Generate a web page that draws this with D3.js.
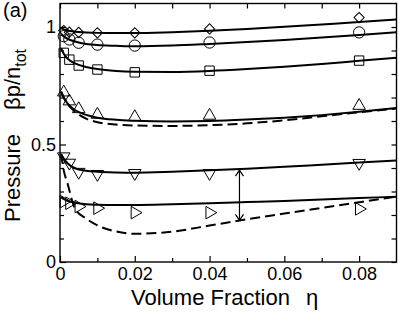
<!DOCTYPE html>
<html>
<head>
<meta charset="utf-8">
<script src="https://cdn.jsdelivr.net/npm/d3@7/dist/d3.min.js"></script>
<style>
  body { margin: 0; background: #fff; }
  svg { display: block; font-family: "Liberation Sans", Arial, sans-serif; }
</style>
</head>
<body>
<svg id="chart" width="399" height="312"></svg>
<script>
// measured points
var etaPts = [0.001, 0.0025, 0.005, 0.01, 0.02, 0.04, 0.08];
var diamondVals = [0.985, 0.978, 0.977, 0.975, 0.975, 0.992, 1.04];
var circleVals  = [0.961, 0.947, 0.933, 0.925, 0.921, 0.934, 0.977];
var squareVals  = [0.89, 0.861, 0.836, 0.819, 0.807, 0.814, 0.857];
var upVals      = [0.722, 0.684, 0.651, 0.627, 0.617, 0.623, 0.665];
var downVals    = [0.449, 0.422, 0.383, 0.374, 0.378, 0.378, 0.421];
var rightVals   = [0.257, 0.25, 0.236, 0.229, 0.21, 0.21, 0.226];

// theory curves
var curveEta = [0.0003, 0.001, 0.002, 0.004, 0.007, 0.01, 0.015, 0.02, 0.03, 0.04, 0.05, 0.06, 0.07, 0.08, 0.09];
var diamondCurve = [0.995, 0.99, 0.985, 0.98, 0.977, 0.975, 0.974, 0.974, 0.978, 0.984, 0.992, 1.001, 1.011, 1.021, 1.032];
var circleCurve  = [0.968, 0.96, 0.95, 0.938, 0.928, 0.923, 0.92, 0.918, 0.921, 0.928, 0.936, 0.945, 0.955, 0.966, 0.978];
var squareCurve  = [0.91, 0.886, 0.866, 0.845, 0.83, 0.821, 0.813, 0.81, 0.809, 0.813, 0.821, 0.831, 0.843, 0.856, 0.869];
var upCurve      = [0.725, 0.70, 0.675, 0.647, 0.626, 0.614, 0.605, 0.601, 0.598, 0.60, 0.606, 0.614, 0.625, 0.639, 0.655];
var upDashed     = [0.725, 0.70, 0.673, 0.64, 0.61, 0.595, 0.585, 0.581, 0.579, 0.582, 0.59, 0.603, 0.62, 0.637, 0.653];
var downCurve    = [0.46, 0.44, 0.42, 0.399, 0.388, 0.384, 0.381, 0.38, 0.384, 0.39, 0.397, 0.405, 0.414, 0.423, 0.432];
var rightCurve   = [0.276, 0.268, 0.26, 0.252, 0.246, 0.244, 0.243, 0.243, 0.246, 0.25, 0.255, 0.26, 0.266, 0.272, 0.278];
var rightDashed  = [0.46, 0.39, 0.335, 0.228, 0.185, 0.156, 0.13, 0.12, 0.129, 0.155, 0.182, 0.206, 0.23, 0.254, 0.278];

var xMajor = [0, 0.02, 0.04, 0.06, 0.08];
var xMinor = [0.01, 0.03, 0.05, 0.07];
var yMajor = [0, 0.5, 1];
var yMinor = [0.1, 0.2, 0.3, 0.4, 0.6, 0.7, 0.8, 0.9];

var arrowEta = 0.048, arrowTop = 0.391, arrowBottom = 0.177;

var svg = d3.select("#chart");
// note: "top" is taken by window.top, so plot edges get their own names
var pLeft = 60, pRight = 396.5, pTop = 3.5, pBottom = 262;

var x = d3.scaleLinear().domain([0, 0.09]).range([pLeft, pRight]);
var y = d3.scaleLinear().domain([0, 1.1]).range([pBottom, pTop]);

svg.append("clipPath").attr("id", "clip")
  .append("rect").attr("x", pLeft).attr("y", pTop).attr("width", pRight - pLeft).attr("height", pBottom - pTop);

// axes, ticks pointing inward on all four sides
function fmtX(d) { return d === 0 ? "0" : d3.format(".2f")(d); }
function fmtY(d) { return d === 0 ? "0" : (d === 1 ? "1" : d3.format(".1f")(d)); }

function styleAxis(g) {
  g.select(".domain").remove();
  g.selectAll("line").attr("stroke", "#000").attr("stroke-width", 1.2);
  g.selectAll("text").attr("fill", "#000").style("font-size", "18px").style("font-family", "Liberation Sans, Arial, sans-serif");
}

svg.append("g").attr("transform", "translate(0," + pBottom + ")")
  .call(d3.axisBottom(x).tickValues(xMajor).tickSize(-6).tickPadding(5).tickFormat(fmtX)).call(styleAxis);
svg.append("g").attr("transform", "translate(0," + pBottom + ")")
  .call(d3.axisBottom(x).tickValues(xMinor).tickSize(-4).tickFormat("")).call(styleAxis);
svg.append("g").attr("transform", "translate(0," + pTop + ")")
  .call(d3.axisTop(x).tickValues(xMajor.concat(xMinor)).tickSize(-5).tickFormat("")).call(styleAxis);

svg.append("g").attr("transform", "translate(" + pLeft + ",0)")
  .call(d3.axisLeft(y).tickValues(yMajor).tickSize(-6).tickPadding(4).tickFormat(fmtY)).call(styleAxis);
svg.append("g").attr("transform", "translate(" + pLeft + ",0)")
  .call(d3.axisLeft(y).tickValues(yMinor).tickSize(-4).tickFormat("")).call(styleAxis);
svg.append("g").attr("transform", "translate(" + pRight + ",0)")
  .call(d3.axisRight(y).tickValues(yMajor.concat(yMinor)).tickSize(-5).tickFormat("")).call(styleAxis);

// frame
svg.append("rect")
  .attr("x", pLeft).attr("y", pTop)
  .attr("width", pRight - pLeft).attr("height", pBottom - pTop)
  .attr("fill", "none").attr("stroke", "#000").attr("stroke-width", 1.4);

var plot = svg.append("g");

// curves
var line = d3.line()
  .x(function(d) { return x(d[0]); })
  .y(function(d) { return y(d[1]); })
  .curve(d3.curveMonotoneX);

var curves = [
  { v: diamondCurve, dash: null },
  { v: circleCurve, dash: null },
  { v: squareCurve, dash: null },
  { v: upCurve, dash: null },
  { v: upDashed, dash: "10,5" },
  { v: downCurve, dash: null },
  { v: rightCurve, dash: null },
  { v: rightDashed, dash: "10,5" }
];

plot.selectAll("path.curve")
  .data(curves)
  .enter().append("path")
  .attr("class", "curve")
  .attr("clip-path", "url(#clip)")
  .attr("d", function(c) { return line(curveEta.map(function(e, i) { return [e, c.v[i]]; })); })
  .attr("fill", "none")
  .attr("stroke", "#000")
  .attr("stroke-width", 2)
  .attr("stroke-dasharray", function(c) { return c.dash; });

// markers (diamond = square turned 45 degrees, same width and height)
var series = [
  { v: diamondVals, shape: d3.symbolSquare, size: 52, rot: 45 },
  { v: circleVals, shape: d3.symbolCircle, size: 100, rot: 0 },
  { v: squareVals, shape: d3.symbolSquare, size: 88, rot: 0 },
  { v: upVals, shape: d3.symbolTriangle, size: 68, rot: 0 },
  { v: downVals, shape: d3.symbolTriangle, size: 68, rot: 180 },
  { v: rightVals, shape: d3.symbolTriangle, size: 68, rot: 90 }
];

series.forEach(function(s) {
  var sym = d3.symbol().type(s.shape).size(s.size);
  plot.append("g").selectAll("path")
    .data(etaPts.map(function(e, i) { return [e, s.v[i]]; }))
    .enter().append("path")
    .attr("d", sym)
    .attr("transform", function(d) { return "translate(" + x(d[0]) + "," + y(d[1]) + ") rotate(" + s.rot + ")"; })
    .attr("fill", "none")
    .attr("stroke", "#000")
    .attr("stroke-width", 1);
});

// double arrow
var ax = x(arrowEta), a1 = y(arrowTop), a2 = y(arrowBottom);
plot.append("line").attr("x1", ax).attr("x2", ax).attr("y1", a1).attr("y2", a2)
  .attr("stroke", "#000").attr("stroke-width", 1.2);
plot.append("path")
  .attr("d", "M" + (ax - 4) + "," + (a1 + 6) + "L" + ax + "," + a1 + "L" + (ax + 4) + "," + (a1 + 6) +
             "M" + (ax - 4) + "," + (a2 - 6) + "L" + ax + "," + a2 + "L" + (ax + 4) + "," + (a2 - 6))
  .attr("fill", "none").attr("stroke", "#000").attr("stroke-width", 1.2);

// labels
svg.append("text").attr("x", 3).attr("y", 17)
  .style("font-size", "20px").text("(a)");

var xl = svg.append("text").attr("x", 131).attr("y", 305).style("font-size", "22px");
xl.append("tspan").text("Volume Fraction");
xl.append("tspan").attr("dx", 16).text("η");

var ylab = svg.append("g").attr("transform", "translate(19.5,0) rotate(-90)");
ylab.append("text").attr("x", -222).attr("y", 0).style("font-size", "22px").text("Pressure");
var yl2 = ylab.append("text").attr("x", -110).attr("y", 0).style("font-size", "22px");
yl2.append("tspan").text("βp/n");
yl2.append("tspan").attr("dy", 6).style("font-size", "16px").text("tot");
</script>
</body>
</html>
